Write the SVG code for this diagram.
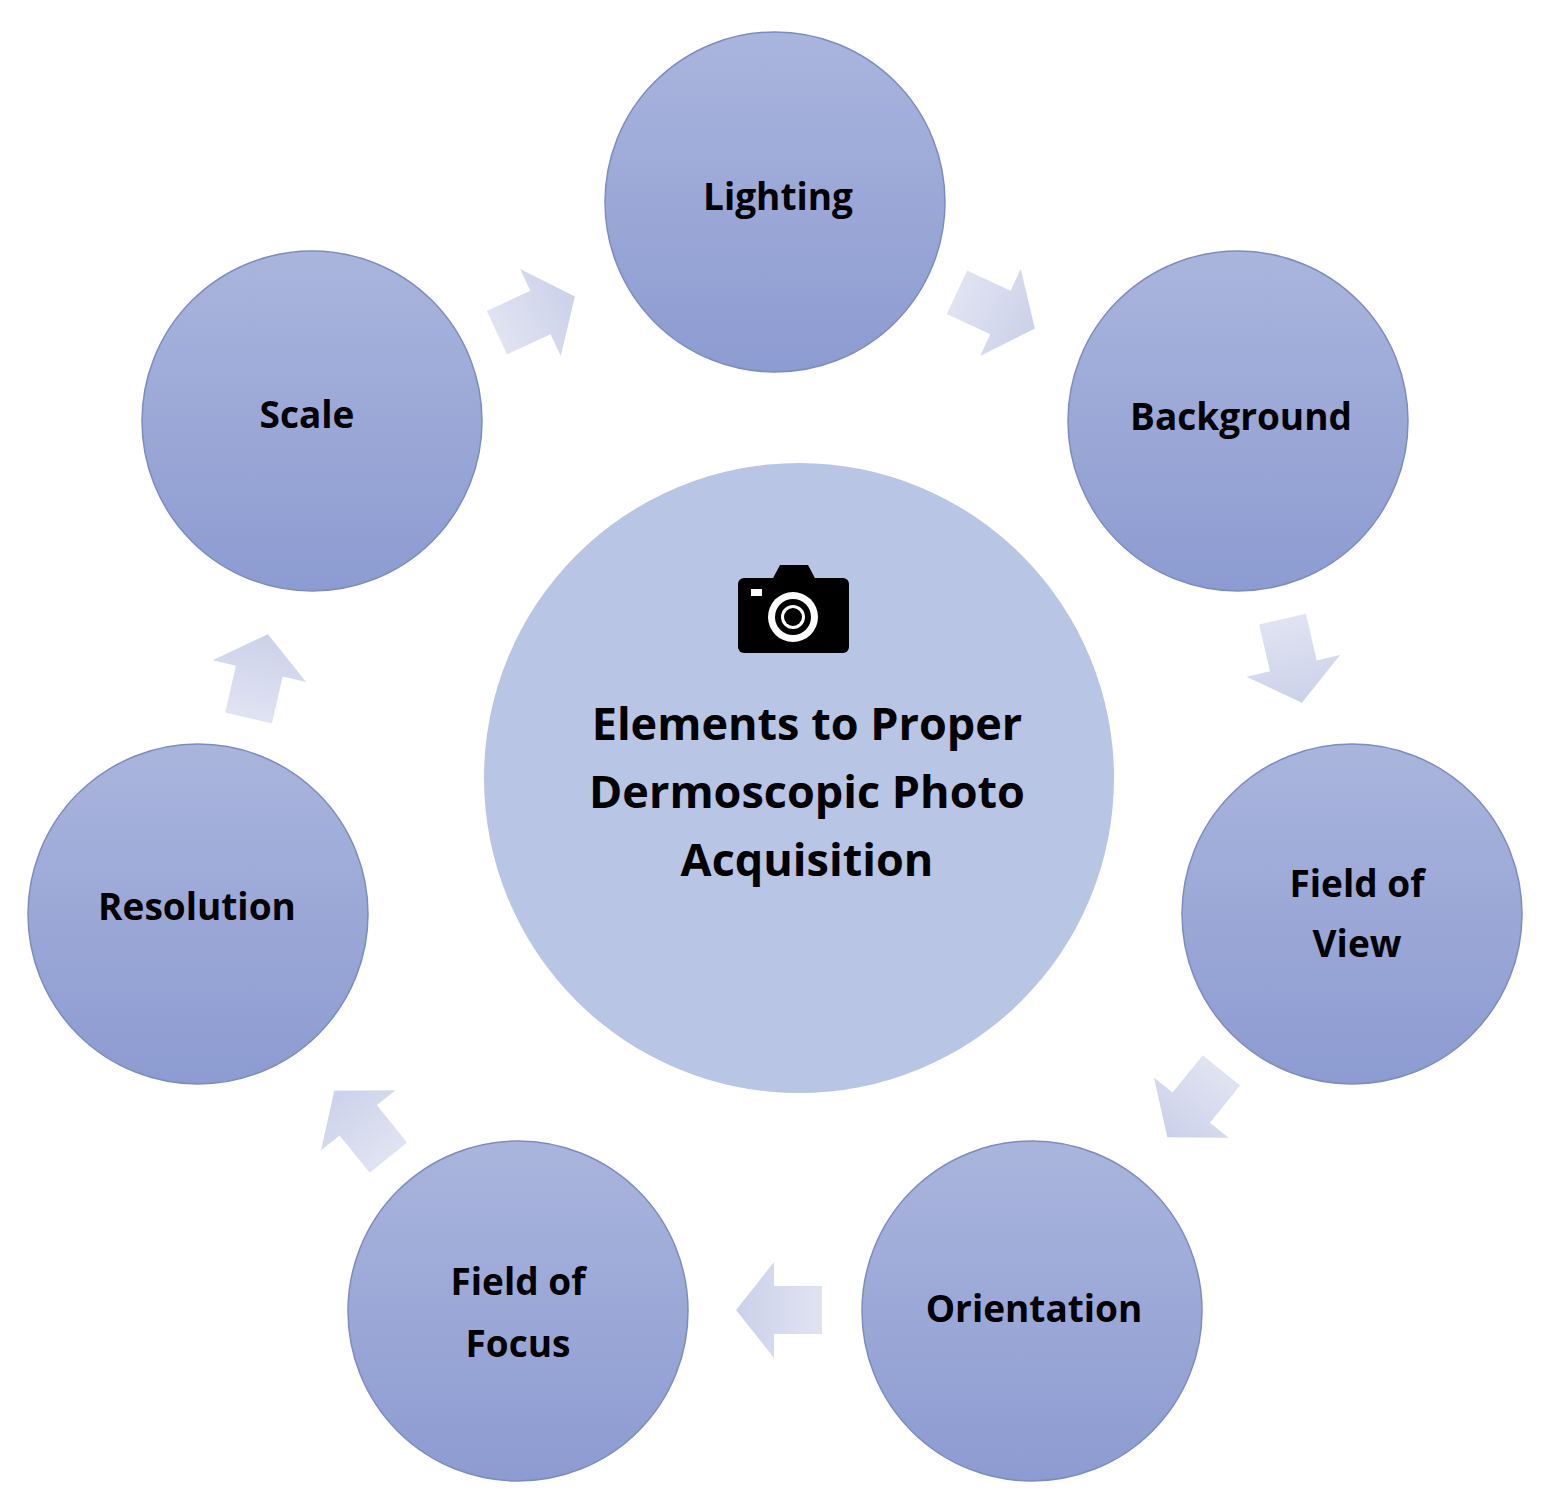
<svg xmlns="http://www.w3.org/2000/svg" width="1562" height="1510" viewBox="0 0 1562 1510">
<defs>
<linearGradient id="g" x1="0" y1="0" x2="0" y2="1"><stop offset="0" stop-color="#aab5dd"/><stop offset="1" stop-color="#8c9bd1"/></linearGradient>
<linearGradient id="ga" x1="0" y1="0" x2="1" y2="0"><stop offset="0" stop-color="#e0e3f1"/><stop offset="1" stop-color="#cbd1ea"/></linearGradient>
<path id="arr" d="M-42,-24 L6,-24 L6,-48 L44,0 L6,48 L6,24 L-42,24 Z" fill="url(#ga)"/>
</defs>
<style>
.n{fill:url(#g);stroke:#7d8cc0;stroke-width:1.5}
.t{font-family:"Open Sans","DejaVu Sans",sans-serif;font-weight:bold;font-size:37px;fill:#000;text-anchor:middle}
.c{font-family:"Open Sans","DejaVu Sans",sans-serif;font-weight:bold;font-size:45px;fill:#000;text-anchor:middle}
</style>
<rect width="1562" height="1510" fill="#fff"/>
<g id="connectors">
<use href="#arr" transform="translate(995,310) rotate(25)"/>
<use href="#arr" transform="translate(1292,660) rotate(77)"/>
<use href="#arr" transform="translate(1195,1103) rotate(129)"/>
<use href="#arr" transform="translate(780,1310) rotate(180)"/>
<use href="#arr" transform="translate(362,1125) rotate(231)"/>
<use href="#arr" transform="translate(258,677) rotate(283)"/>
<use href="#arr" transform="translate(535,315) rotate(335)"/>
</g>
<g id="center">
<circle cx="799" cy="778" r="315" fill="#b8c5e4"/>
<g id="camera">
<rect x="738" y="578" width="111" height="75" rx="6" fill="#000"/>
<path d="M772,580 L780,565 L808,565 L816,580 Z" fill="#000"/>
<circle cx="793" cy="617" r="25" fill="#fff"/>
<circle cx="793" cy="617" r="18" fill="#000"/>
<circle cx="793" cy="617" r="12" fill="#fff"/>
<circle cx="793" cy="617" r="9" fill="#000"/>
<rect x="751" y="589" width="11" height="7" fill="#fff"/>
</g>
<text class="c" x="807" y="740">Elements to Proper</text>
<text class="c" x="807" y="808">Dermoscopic Photo</text>
<text class="c" x="807" y="876">Acquisition</text>
</g>
<g id="lighting"><circle class="n" cx="775" cy="202" r="170"/><text class="t" x="778" y="210">Lighting</text></g>
<g id="background"><circle class="n" cx="1238" cy="421" r="170"/><text class="t" x="1241" y="430">Background</text></g>
<g id="fov"><circle class="n" cx="1352" cy="914" r="170"/><text class="t" x="1357" y="897">Field of</text><text class="t" x="1357" y="957">View</text></g>
<g id="orientation"><circle class="n" cx="1032" cy="1311" r="170"/><text class="t" x="1034" y="1322">Orientation</text></g>
<g id="fof"><circle class="n" cx="518" cy="1311" r="170"/><text class="t" x="518" y="1295">Field of</text><text class="t" x="518" y="1357">Focus</text></g>
<g id="resolution"><circle class="n" cx="198" cy="914" r="170"/><text class="t" x="197" y="920">Resolution</text></g>
<g id="scale"><circle class="n" cx="312" cy="421" r="170"/><text class="t" x="307" y="428">Scale</text></g>
</svg>
